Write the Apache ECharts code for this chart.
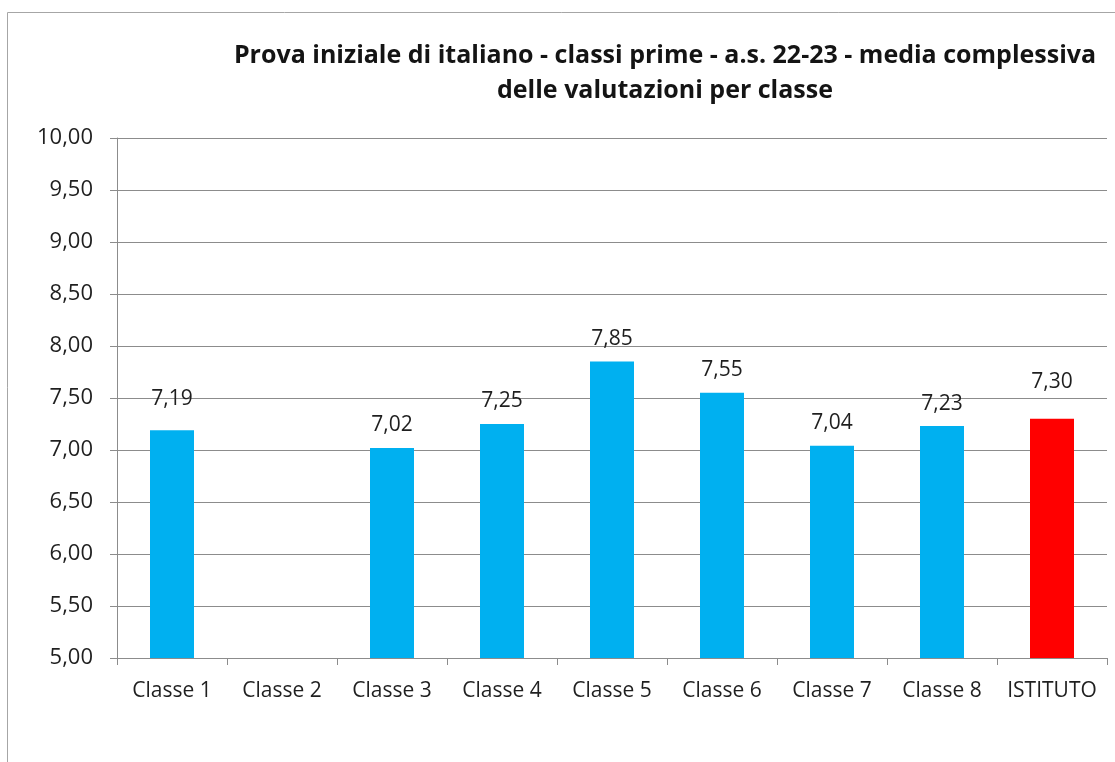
<!DOCTYPE html>
<html>
<head>
<meta charset="utf-8">
<script src="https://cdn.jsdelivr.net/npm/echarts@6/dist/echarts.min.js"></script>
<style>
  html, body { margin: 0; padding: 0; background: #fff; }
  #chart { width: 1115px; height: 762px; }
</style>
</head>
<body>
<div id="chart"></div>
<script>
const titleText = 'Prova iniziale di italiano - classi prime - a.s. 22-23 - media complessiva\ndelle valutazioni per classe';
const categories = ['Classe 1', 'Classe 2', 'Classe 3', 'Classe 4', 'Classe 5', 'Classe 6', 'Classe 7', 'Classe 8', 'ISTITUTO'];
const values = [7.19, null, 7.02, 7.25, 7.85, 7.55, 7.04, 7.23, 7.30];
const yMin = 5, yMax = 10, yStep = 0.5;

const BLUE = '#00B0F0', RED = '#FF0000';
const fmt = v => Number(v).toFixed(2).replace('.', ',');
// extra lift of individual labels as placed in the original
const labelLift = { 'Classe 1': 9, 'ISTITUTO': 14 };

const seriesData = categories.map((c, i) => ({
  value: values[i],
  itemStyle: { color: c === 'ISTITUTO' ? RED : BLUE },
  label: { distance: 12 + (labelLift[c] || 0) }
}));

const chart = echarts.init(document.getElementById('chart'), null, { renderer: 'canvas' });
chart.setOption({
  animation: false,
  textStyle: { fontFamily: 'Open Sans' },
  graphic: [{
    type: 'polyline',
    shape: { points: [[7.5, 770], [7.5, 12.5], [1120, 12.5]] },
    style: { stroke: '#a6a6a6', fill: null, lineWidth: 1 }
  }],
  title: {
    text: titleText,
    left: 660,
    top: 33,
    textAlign: 'center',
    textStyle: { fontFamily: 'Open Sans', fontWeight: 'bold', fontSize: 25, color: '#141414', lineHeight: 35 }
  },
  grid: { left: 117, right: 8, top: 138, bottom: 104, containLabel: false },
  xAxis: {
    type: 'category',
    data: categories,
    axisLine: { lineStyle: { color: '#8c8c8c', width: 1 } },
    axisTick: { show: true, length: 7, lineStyle: { color: '#8c8c8c' } },
    axisLabel: { fontFamily: 'Open Sans', fontSize: 21, color: '#1f1f1f', margin: 23, interval: 0 }
  },
  yAxis: {
    type: 'value',
    min: yMin, max: yMax, interval: yStep,
    axisLine: { show: true, lineStyle: { color: '#8c8c8c', width: 1 } },
    axisTick: { show: true, length: 7, lineStyle: { color: '#8c8c8c' } },
    splitLine: { lineStyle: { color: '#8c8c8c', width: 1 } },
    axisLabel: { fontFamily: 'Open Sans', fontSize: 22, color: '#1f1f1f', margin: 24, formatter: fmt }
  },
  series: [{
    type: 'bar',
    data: seriesData,
    barWidth: 44,
    label: {
      show: true, position: 'top', distance: 12,
      fontFamily: 'Open Sans', fontSize: 21, color: '#1f1f1f',
      formatter: p => fmt(p.value)
    }
  }]
});
</script>
</body>
</html>
